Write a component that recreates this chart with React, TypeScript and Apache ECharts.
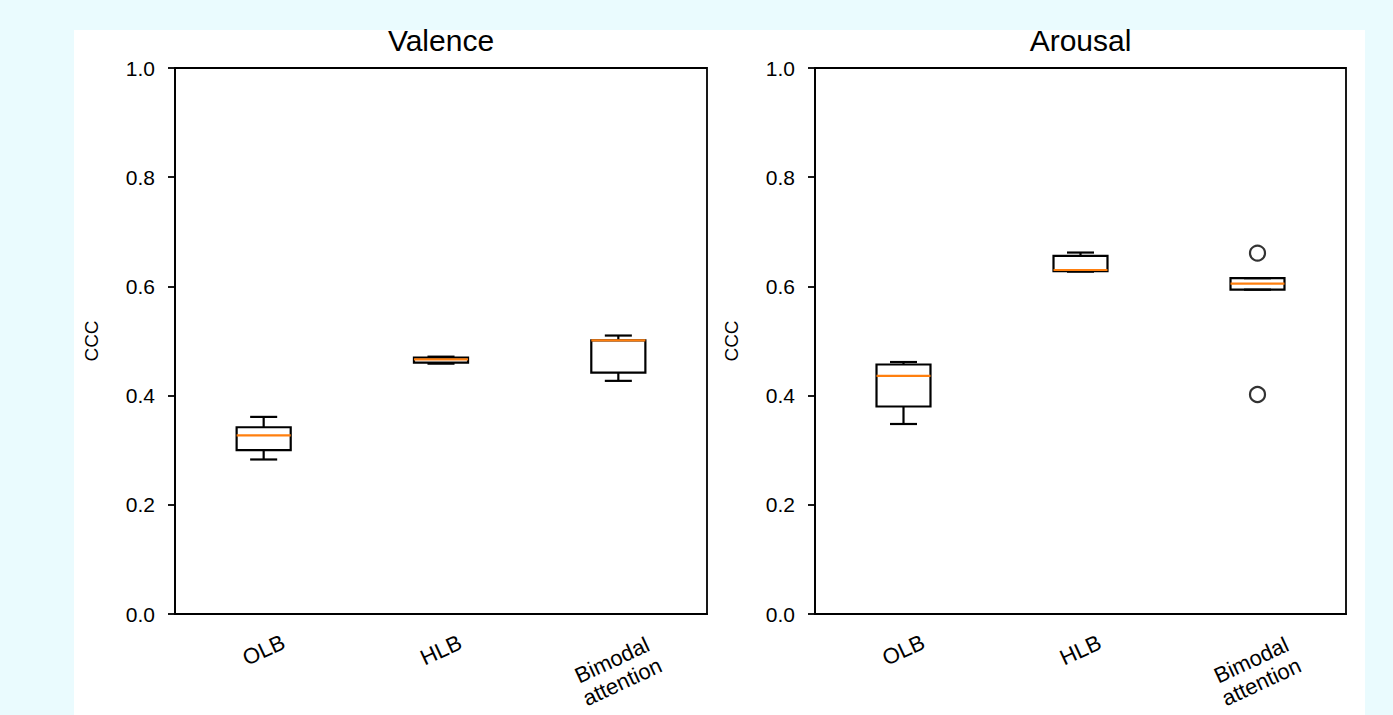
import React, { useEffect, useRef } from "react";
import * as echarts from "echarts";

const categories = ["OLB", "HLB", "Bimodal\nattention"];
// [lowWhisker, q1, median, q3, highWhisker]
const valenceStats = [
  [0.283, 0.3, 0.327, 0.342, 0.361],
  [0.4585, 0.4603, 0.4664, 0.4695, 0.4713],
  [0.427, 0.442, 0.501, 0.501, 0.51],
];
const arousalStats = [
  [0.348, 0.38, 0.436, 0.457, 0.4615],
  [0.627, 0.628, 0.63, 0.656, 0.662],
  [0.594, 0.594, 0.605, 0.615, 0.615],
];
const valenceOutliers: number[][] = [];
const arousalOutliers = [
  [2, 0.661],
  [2, 0.402],
];
const yTicks = { min: 0, max: 1, interval: 0.2 };
const titles = ["Valence", "Arousal"];
const yName = "CCC";

const FONT = "Liberation Sans, Arial, sans-serif";

function renderBox(params: any, api: any) {
  const x = api.value(0);
  const lo = api.coord([x, api.value(1)]);
  const q1 = api.coord([x, api.value(2)]);
  const med = api.coord([x, api.value(3)]);
  const q3 = api.coord([x, api.value(4)]);
  const hi = api.coord([x, api.value(5)]);
  const band = api.size([1, 0])[0];
  const boxW = band * 0.305;
  const capW = boxW / 2;
  const cx = lo[0];
  const black = { stroke: "#000", lineWidth: 2.2, fill: "none" };
  return {
    type: "group",
    children: [
      { type: "line", shape: { x1: cx, y1: q3[1], x2: cx, y2: hi[1] }, style: black },
      { type: "line", shape: { x1: cx, y1: q1[1], x2: cx, y2: lo[1] }, style: black },
      { type: "line", shape: { x1: cx - capW / 2, y1: hi[1], x2: cx + capW / 2, y2: hi[1] }, style: black },
      { type: "line", shape: { x1: cx - capW / 2, y1: lo[1], x2: cx + capW / 2, y2: lo[1] }, style: black },
      {
        type: "rect",
        shape: { x: cx - boxW / 2, y: q3[1], width: boxW, height: q1[1] - q3[1] },
        style: black,
      },
      {
        type: "line",
        shape: { x1: cx - boxW / 2, y1: med[1], x2: cx + boxW / 2, y2: med[1] },
        style: { stroke: "#ff7f0e", lineWidth: 2.2 },
      },
    ],
  };
}

function labelFormatter(value: string) {
  const lines = value.split("\n");
  if (lines.length > 1) {
    return "{sp| }\n" + lines.map((l) => "{t|" + l + "}").join("\n");
  }
  return "{o|" + value + "}";
}

export default function App() {
  const ref = useRef<HTMLDivElement>(null);
  useEffect(() => {
    if (!ref.current) return;
    const chart = echarts.init(ref.current, undefined, { renderer: "svg" });
    const grids = [
      { left: 175, top: 68, width: 532, height: 546 },
      { left: 815, top: 68, width: 531, height: 546 },
    ];
    const xAxes = grids.map((_, gi) => ({
      type: "category",
      gridIndex: gi,
      data: categories,
      boundaryGap: true,
      axisLine: { lineStyle: { color: "#000", width: 1.8 } },
      axisTick: { alignWithLabel: true, length: 7, lineStyle: { color: "#000", width: 1.8 } },
      axisLabel: {
        rotate: 25,
        align: "center",
        verticalAlign: "middle",
        margin: 36,
        color: "#000",
        fontSize: 22,
        fontFamily: FONT,
        interval: 0,
        formatter: labelFormatter,
        rich: {
          o: { fontSize: 22, fontFamily: FONT, color: "#000", lineHeight: 24 },
          sp: { fontSize: 22, fontFamily: FONT, lineHeight: 37, height: 37 },
          t: {
            fontSize: 22,
            fontFamily: FONT,
            color: "#000",
            lineHeight: 24,
            padding: [0, 20, 0, 0],
          },
        },
      },
      splitLine: { show: false },
    }));
    const yAxes = grids.map((_, gi) => ({
      type: "value",
      gridIndex: gi,
      min: yTicks.min,
      max: yTicks.max,
      interval: yTicks.interval,
      name: yName,
      nameLocation: "middle",
      nameGap: 74,
      nameTextStyle: { color: "#000", fontSize: 19, fontFamily: FONT },
      axisLine: { show: true, lineStyle: { color: "#000", width: 1.8 } },
      axisTick: { show: true, length: 7, lineStyle: { color: "#000", width: 1.8 } },
      axisLabel: {
        margin: 20,
        color: "#000",
        fontSize: 21,
        fontFamily: FONT,
        formatter: (v: number) => v.toFixed(1),
      },
      splitLine: { show: false },
    }));
    const statsList = [valenceStats, arousalStats];
    const outList = [valenceOutliers, arousalOutliers];
    const series: any[] = [];
    statsList.forEach((stats, gi) => {
      series.push({
        type: "custom",
        xAxisIndex: gi,
        yAxisIndex: gi,
        renderItem: renderBox,
        data: stats.map((s, i) => [i, ...s]),
        encode: { x: 0, y: [1, 2, 3, 4, 5] },
        clip: false,
      });
      series.push({
        type: "scatter",
        xAxisIndex: gi,
        yAxisIndex: gi,
        data: outList[gi],
        symbol: "circle",
        symbolSize: 15,
        itemStyle: { color: "transparent", borderColor: "#000", borderWidth: 2.2 },
      });
    });
    chart.setOption({
      animation: false,
      backgroundColor: "transparent",
      title: titles.map((t, gi) => ({
        text: t,
        left: grids[gi].left + grids[gi].width / 2,
        top: 25,
        textAlign: "center",
        padding: 0,
        textStyle: { color: "#000", fontSize: 30, fontWeight: "normal", fontFamily: FONT },
      })),
      graphic: [
        {
          type: "rect",
          z: -10,
          silent: true,
          shape: { x: 74, y: 30, width: 1291, height: 700 },
          style: { fill: "#ffffff" },
        },
      ],
      grid: grids.map((g) => ({
        ...g,
        show: true,
        borderColor: "#000",
        borderWidth: 1.8,
        backgroundColor: "transparent",
      })),
      xAxis: xAxes,
      yAxis: yAxes,
      series,
    });
    return () => chart.dispose();
  }, []);
  return (
    <div
      ref={ref}
      style={{
        position: "fixed",
        left: 0,
        top: 0,
        width: 1393,
        height: 715,
        background: "#eafbfe",
      }}
    />
  );
}
